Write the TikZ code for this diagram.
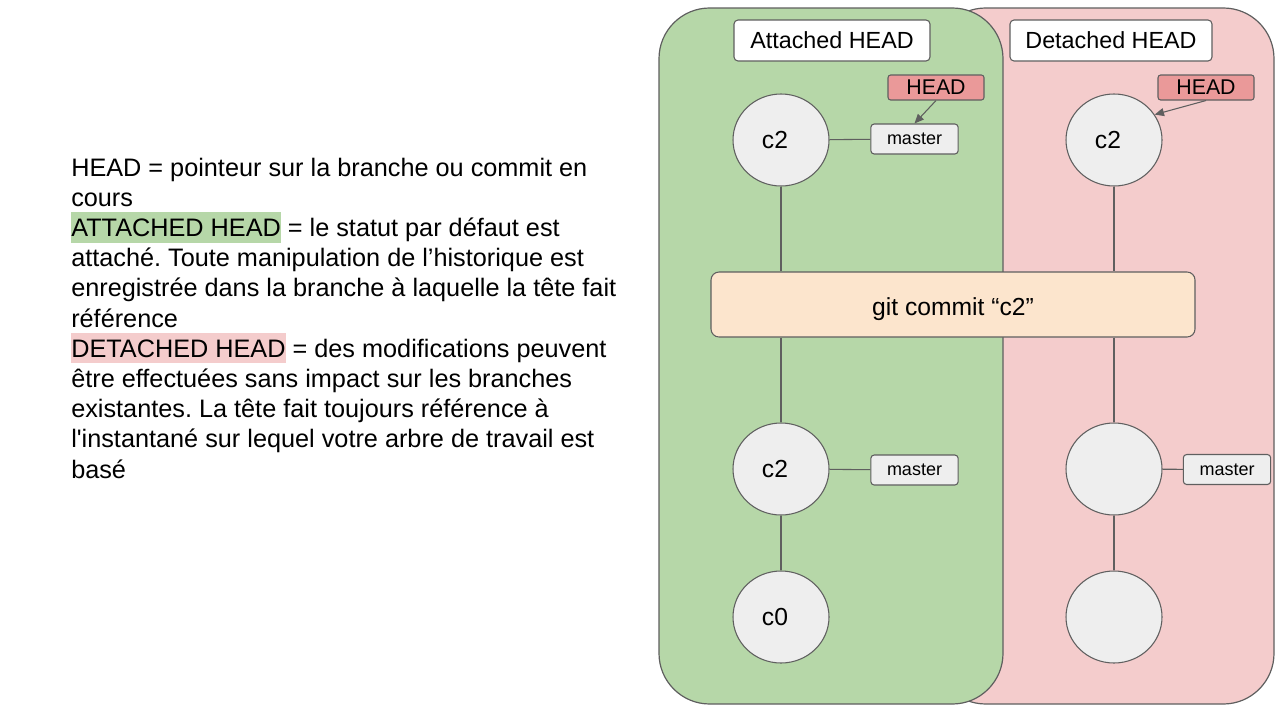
\documentclass[tikz,border=0pt]{standalone}
\usepackage{fontspec}
\setmainfont{Liberation Sans}
\usetikzlibrary{shapes.geometric,arrows.meta}
\definecolor{gfill}{HTML}{B6D7A8}
\definecolor{pfill}{HTML}{F4CCCC}
\definecolor{hfill}{HTML}{EA9999}
\definecolor{cfill}{HTML}{FCE5CD}
\definecolor{nfill}{HTML}{EEEEEE}
\definecolor{edge}{HTML}{5F5F5F}
\frenchspacing
\tikzset{
  panel/.style={draw=edge, line width=0.9pt, rounded corners=38pt, inner sep=0pt, minimum height=522pt},
  titlebox/.style={draw=edge, line width=0.8pt, fill=white, rounded corners=3pt, minimum height=30.75pt, inner sep=0pt, font=\fontsize{17.5}{20}\selectfont},
  headbox/.style={draw=edge, line width=0.8pt, fill=hfill, rounded corners=2pt, minimum width=72pt, minimum height=18.75pt, inner sep=0pt, font=\fontsize{16}{18}\selectfont},
  branch/.style={draw=edge, line width=0.8pt, fill=nfill, rounded corners=2.5pt, minimum width=65.5pt, minimum height=22.5pt, inner sep=0pt, font=\fontsize{13.5}{15}\selectfont},
  commitnode/.style={ellipse, draw=edge, line width=0.8pt, fill=nfill, minimum width=72pt, minimum height=69pt, inner sep=0pt, font=\fontsize{18.5}{20}\selectfont},
  link/.style={draw=edge, line width=0.8pt},
  arr/.style={draw=edge, line width=0.8pt, -{Triangle[length=7pt,width=6pt]}},
  txt/.style={anchor=base west, inner sep=0pt, font=\fontsize{18.95}{22.65}\selectfont},
}
\newcommand{\hl}[2]{{\setlength{\fboxsep}{0pt}\colorbox{#1}{\rule[-4.7pt]{0pt}{23.2pt}#2}}}
\begin{document}
\begin{tikzpicture}[x=0.75pt,y=-0.75pt]
\useasboundingbox (0,0) rectangle (1278,721);
\fill[white] (0,0) rectangle (1278,721);

% panels
\node[panel, fill=pfill, minimum width=254.25pt] (pinkpanel) at (1104.5,356) {};
\node[panel, fill=gfill, minimum width=258pt] (greenpanel) at (831,356) {};

% titles
\node[titlebox, minimum width=147pt] (ttlA) at (832,40.5) {Attached HEAD};
\node[titlebox, minimum width=151.5pt] (ttlD) at (1111,40.5) {Detached HEAD};

% commit box
\node[draw=edge, line width=0.8pt, fill=cfill, rounded corners=6pt, minimum width=363pt, minimum height=48.75pt, inner sep=0pt, font=\fontsize{18.5}{20}\selectfont] (commit) at (953,304.5) {\raisebox{-3.5pt}[\height][\depth]{git commit “c2”}};

% attached side
\node[commitnode] (a1) at (781,140) {\hspace*{-9pt}c2};
\node[commitnode] (a2) at (781,469) {\hspace*{-9pt}c2};
\node[commitnode] (a3) at (781,617) {\hspace*{-9pt}c0};
\node[branch] (ma1) at (914.5,139) {master};
\node[branch] (ma2) at (914.5,470) {master};
\node[headbox] (ha) at (936,87.5) {HEAD};
\draw[link] (a1) -- (ma1);
\draw[link] (a2) -- (ma2);
\draw[link] (a1.south) -- (a1.south |- commit.north);
\draw[link] (a2.north |- commit.south) -- (a2.north);
\draw[link] (a2) -- (a3);
\draw[arr] (ha.south) -- (ma1.north);

% detached side
\node[commitnode] (d1) at (1114,140) {\hspace*{-9pt}c2};
\node[commitnode] (d2) at (1114,469) {};
\node[commitnode] (d3) at (1114,617) {};
\node[branch] (md2) at (1227,469.5) {master};
\node[headbox] (hd) at (1206,87.5) {HEAD};
\draw[link] (d2) -- (md2);
\draw[link] (d1.south) -- (d1.south |- commit.north);
\draw[link] (d2.north |- commit.south) -- (d2.north);
\draw[link] (d2) -- (d3);
\draw[arr] (hd.south) -- (d1.32);

% left text
\node[txt] (t1) at (71,176) {HEAD = pointeur sur la branche ou commit en};
\node[txt] (t2) at (71,206.2) {cours};
\node[txt] (t3) at (71,236.4) {\hl{gfill}{ATTACHED HEAD} = le statut par défaut est};
\node[txt] (t4) at (71,266.6) {attaché. Toute manipulation de l’historique est};
\node[txt] (t5) at (71,296.8) {enregistrée dans la branche à laquelle la tête fait};
\node[txt] (t6) at (71,327) {référence};
\node[txt] (t7) at (71,357.2) {\hl{pfill}{DETACHED HEAD} = des modifications peuvent};
\node[txt] (t8) at (71,387.4) {être effectuées sans impact sur les branches};
\node[txt] (t9) at (71,417.6) {existantes. La tête fait toujours référence à};
\node[txt] (t10) at (71,447.8) {l\textquotesingle instantané sur lequel votre arbre de travail est};
\node[txt] (t11) at (71,478) {basé};
\end{tikzpicture}
\end{document}
